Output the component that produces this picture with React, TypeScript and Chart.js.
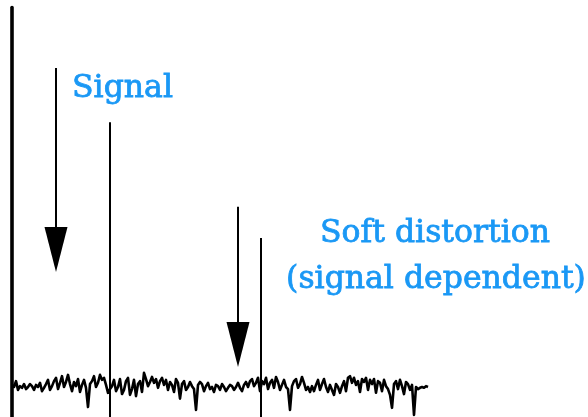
import React, { useEffect, useRef } from "react";
import { Chart, registerables } from "chart.js";

Chart.register(...registerables);

// Noise floor: one level per spectrum bin (x = 0, 1, 2, ...), level on a 0..100 scale
const noiseLevels = [
  7.7, 7.2, 8.6, 6.5, 7.4, 7.0, 7.9, 6.7, 7.2, 7.9,
  7.4, 6.5, 7.7, 7.2, 8.2, 6.2, 7.0, 7.9, 8.9, 6.5,
  7.4, 8.6, 9.4, 6.7, 8.2, 9.8, 7.2, 8.4, 10.1, 7.9,
  6.2, 8.4, 7.4, 9.1, 6.0, 7.7, 8.9, 7.0, 2.4, 7.9,
  8.6, 9.8, 7.2, 8.2, 10.1, 8.9, 9.4, 7.7, 5.8, 6.7,
  7.4, 8.9, 6.2, 7.2, 9.1, 5.5, 6.5, 8.6, 9.4, 5.3,
  6.7, 8.9, 5.0, 7.9, 8.6, 6.0, 10.6, 9.1, 7.4, 8.4,
  9.6, 8.2, 9.1, 7.0, 8.6, 9.4, 7.7, 8.9, 6.5, 8.4,
  7.7, 6.0, 9.1, 8.2, 4.4, 7.9, 8.6, 6.5, 7.2, 8.4,
  7.4, 6.7, 1.7, 7.7, 8.4, 7.9, 6.2, 7.4, 8.2, 6.7,
  7.2, 6.0, 7.7, 7.4, 6.5, 7.9, 7.2, 6.2, 7.0, 7.7,
  7.4, 6.5, 7.2, 8.2, 7.0, 6.2, 7.7, 8.4, 7.2, 8.6,
  9.1, 7.4, 8.2, 9.4, 6.2, 8.6, 7.9, 9.4, 6.7, 8.2,
  8.9, 7.0, 9.6, 8.4, 6.5, 7.7, 8.9, 7.2, 6.7, 1.7,
  7.4, 8.6, 9.1, 7.0, 7.9, 9.6, 8.2, 6.5, 7.2, 6.0,
  7.4, 6.2, 7.7, 8.9, 6.5, 7.9, 9.1, 7.2, 6.0, 7.7,
  6.5, 5.3, 7.9, 7.2, 5.8, 7.4, 8.6, 6.2, 9.4, 9.8,
  8.2, 9.4, 7.7, 8.6, 6.0, 9.1, 8.4, 9.4, 6.5, 8.9,
  7.9, 9.1, 5.8, 8.6, 8.2, 6.2, 8.9, 7.4, 6.7, 5.3,
  2.2, 7.9, 8.6, 6.7, 8.9, 7.4, 5.5, 8.4, 7.9, 6.5,
  7.7, 0.5, 7.2, 6.7, 7.0, 7.2, 7.0, 7.4, 7.2,
];

// Tones: the signal and its signal-dependent distortion product
const toneBins = [49, 124.5];
const toneLevels = [70.7, 42.9];

// Pointer arrows: bin, start level, tip level
const arrowBins = [22, 113];
const arrowStarts = [83.7, 50.4];
const arrowTips = [34.8, 12.0];

const labelTexts = ["Signal", "Soft distortion", "(signal dependent)"];

const BLUE = "#1a98f5";

const annotations = {
  id: "annotations",
  afterDatasetsDraw(chart: any) {
    const { ctx, scales } = chart;
    const xs = scales.x;
    const ys = scales.y;
    ctx.save();
    // arrow heads
    ctx.fillStyle = "#000";
    arrowBins.forEach((b, i) => {
      const px = xs.getPixelForValue(b);
      const tip = ys.getPixelForValue(arrowTips[i]);
      ctx.beginPath();
      ctx.moveTo(px, tip);
      ctx.lineTo(px - 11.5, tip - 45);
      ctx.lineTo(px + 11.5, tip - 45);
      ctx.closePath();
      ctx.fill();
    });
    // labels
    ctx.fillStyle = BLUE;
    ctx.strokeStyle = BLUE;
    ctx.lineWidth = 0.8;
    ctx.font = "31.5px 'DejaVu Serif'";
    ctx.textBaseline = "alphabetic";
    const put = (t: string, x: number, y: number, align: string) => {
      ctx.textAlign = align;
      const px = xs.getPixelForValue(x);
      const py = ys.getPixelForValue(y);
      ctx.fillText(t, px, py);
      ctx.strokeText(t, px, py);
    };
    put(labelTexts[0], 30, 76.7, "left");
    put(labelTexts[1], 211.5, 42.0, "center");
    put(labelTexts[2], 212, 30.9, "center");
    ctx.restore();
  },
};

export default function App() {
  const ref = useRef<HTMLCanvasElement | null>(null);

  useEffect(() => {
    if (!ref.current) return;
    const line = (data: { x: number; y: number }[], width: number, cap = "butt", join = "miter") => ({
      data,
      borderColor: "#000",
      borderWidth: width,
      borderCapStyle: cap,
      borderJoinStyle: join,
      pointRadius: 0,
      tension: 0,
      fill: false,
    });
    const datasets: any[] = [
      line(noiseLevels.map((v, i) => ({ x: i, y: v })), 2.6, "butt", "round"),
      ...toneBins.map((b, i) => line([{ x: b, y: -2 }, { x: b, y: toneLevels[i] }], 2)),
      ...arrowBins.map((b, i) => line([{ x: b, y: arrowStarts[i] }, { x: b, y: arrowTips[i] + 5 }], 2)),
      line([{ x: 0, y: -3 }, { x: 0, y: 98.2 }], 3.6, "round"),
    ];
    const chart = new Chart(ref.current, {
      type: "line",
      data: { datasets },
      options: {
        animation: false,
        responsive: false,
        events: [],
        layout: { padding: 0 },
        plugins: { legend: { display: false }, tooltip: { enabled: false } },
        scales: {
          x: { type: "linear", min: -6, max: 288, display: false },
          y: { type: "linear", min: 0, max: 100, display: false },
        },
      },
      plugins: [annotations],
    } as any);
    return () => chart.destroy();
  }, []);

  return (
    <div style={{ position: "fixed", left: 0, top: 0, width: 588, height: 417, background: "#fff" }}>
      <canvas ref={ref} width={588} height={417} style={{ display: "block" }} />
    </div>
  );
}
